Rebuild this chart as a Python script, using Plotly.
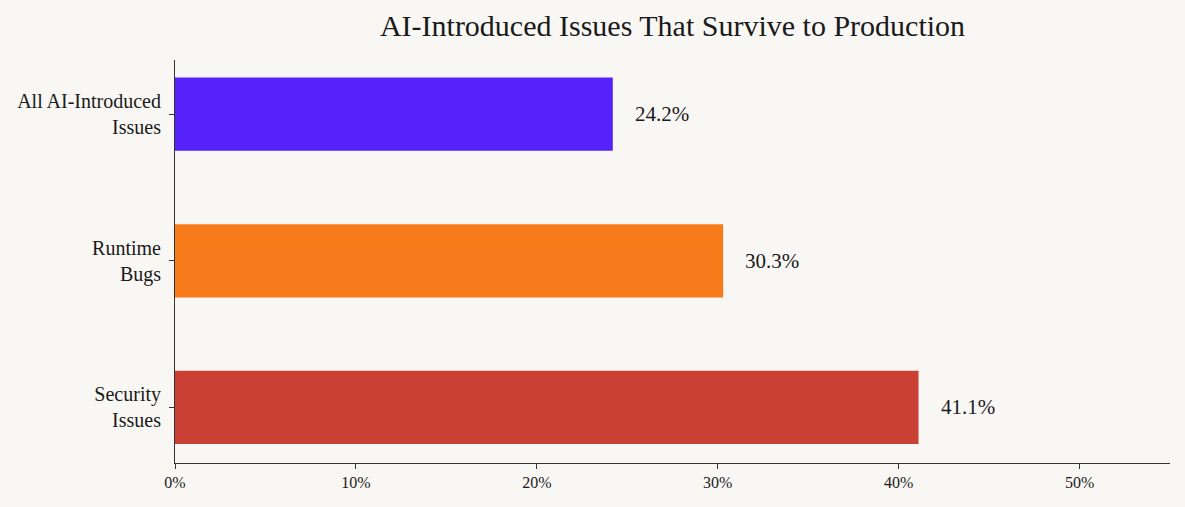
import plotly.graph_objects as go

categories = ["Security<br>Issues", "Runtime<br>Bugs", "All AI-Introduced<br>Issues"]
values = [41.1, 30.3, 24.2]
colors = ["#CB4035", "#F77B1A", "#5622FB"]
x_ticks = [0, 10, 20, 30, 40, 50]
x_tick_labels = ["0%", "10%", "20%", "30%", "40%", "50%"]

FONT = "Liberation Serif"
BG = "#F9F7F4"

positions = list(range(len(categories)))

fig = go.Figure()

fig.add_trace(
    go.Bar(
        x=values,
        y=positions,
        orientation="h",
        width=0.5,
        marker=dict(color=colors, line=dict(width=0)),
        hoverinfo="skip"
    )
)

# value labels to the right of each bar
for pos, val in zip(positions, values):
    fig.add_annotation(
        x=val,
        y=pos,
        text=f"{val:.1f}%",
        showarrow=False,
        xanchor="left",
        xshift=20,
        font=dict(family=FONT, size=21, color="#1a1a1a")
    )

fig.update_layout(
    title=dict(
        text="AI-Introduced Issues That Survive to Production",
        x=0.5,
        xref="paper",
        xanchor="center",
        y=0.95,
        yanchor="middle",
        font=dict(family=FONT, size=30, color="#1a1a1a")
    ),
    width=1185,
    height=507,
    margin=dict(l=175, r=15, t=60, b=44),
    paper_bgcolor=BG,
    plot_bgcolor=BG,
    showlegend=False,
    font=dict(family=FONT, color="#1a1a1a"),
    xaxis=dict(
        range=[0, 55],
        tickvals=x_ticks,
        ticktext=x_tick_labels,
        showgrid=False,
        zeroline=False,
        showline=True,
        linecolor="#333333",
        linewidth=1,
        ticks="outside",
        ticklen=5,
        tickcolor="#333333",
        tickfont=dict(family=FONT, size=16, color="#1a1a1a")
    ),
    yaxis=dict(
        range=[-0.38, 2.37],
        tickvals=positions,
        ticktext=categories,
        showgrid=False,
        zeroline=False,
        showline=True,
        linecolor="#333333",
        linewidth=1,
        ticks="outside",
        ticklen=5,
        tickcolor="#333333",
        ticklabelstandoff=4,
        tickfont=dict(family=FONT, size=20, color="#1a1a1a")
    )
)

# remove the default page margin so the figure fills the window
fig.write_html(
    "out.html",
    config={"displayModeBar": False},
    post_script="document.body.style.margin='0';"
    "document.body.style.background='" + BG + "';"
)
